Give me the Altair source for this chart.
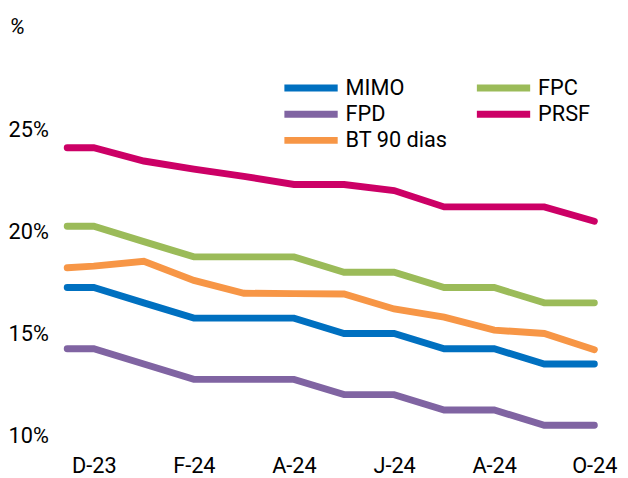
import altair as alt
import pandas as pd

# x positions: month index (0 = Dec-23 ... 10 = Oct-24); first point is a lead-in before Dec-23
x_idx = [-0.53, 0, 1, 2, 3, 4, 5, 6, 7, 8, 9, 10]
mimo = [17.25, 17.25, 16.5, 15.75, 15.75, 15.75, 15.0, 15.0, 14.25, 14.25, 13.5, 13.5]
fpc = [20.25, 20.25, 19.5, 18.75, 18.75, 18.75, 18.0, 18.0, 17.25, 17.25, 16.5, 16.5]
fpd = [14.25, 14.25, 13.5, 12.75, 12.75, 12.75, 12.0, 12.0, 11.25, 11.25, 10.5, 10.5]
prsf = [24.1, 24.1, 23.45, 23.05, 22.7, 22.3, 22.3, 22.0, 21.2, 21.2, 21.2, 20.5]
bt90 = [18.22, 18.3, 18.54, 17.6, 16.97, 16.95, 16.93, 16.2, 15.8, 15.16, 15.0, 14.2]

series_names = ["MIMO", "FPC", "FPD", "PRSF", "BT 90 dias"]
series_colors = ["#0070C0", "#9BBB59", "#8064A2", "#CC0066", "#F79646"]

x_tick_values = [0, 2, 4, 6, 8, 10]
x_tick_labels = ["D-23", "F-24", "A-24", "J-24", "A-24", "O-24"]
y_tick_values = [10, 15, 20, 25]

rows = []
for name, vals in zip(series_names, [mimo, fpc, fpd, prsf, bt90]):
    for xi, v in zip(x_idx, vals):
        rows.append({"x": xi, "value": v, "serie": name})
df = pd.DataFrame(rows)

FONT = "Roboto"
FS = 22

label_array = "[" + ",".join("'" + s + "'" for s in x_tick_labels) + "]"

chart = (
    alt.Chart(df)
    .mark_line(strokeWidth=7, strokeCap="round", strokeJoin="miter")
    .encode(
        x=alt.X(
            "x:Q",
            scale=alt.Scale(domain=[-0.53, 10], nice=False, zero=False),
            axis=alt.Axis(
                values=x_tick_values,
                labelExpr=label_array + "[round(datum.value/2)]",
                title=None,
                domain=False,
                ticks=False,
                grid=False,
                labelFlush=False,
                labelPadding=21,
                labelFont=FONT,
                labelFontSize=FS,
                labelColor="#000000",
            ),
        ),
        y=alt.Y(
            "value:Q",
            scale=alt.Scale(domain=[10, 30], nice=False, zero=False),
            axis=alt.Axis(
                values=y_tick_values,
                labelExpr="datum.value + '%'",
                title="%",
                titleAngle=0,
                titleX=-59,
                titleY=-1,
                titleAlign="left",
                titleBaseline="middle",
                titleFont=FONT,
                titleFontSize=FS,
                titleFontStyle="italic",
                titleFontWeight="normal",
                titleColor="#000000",
                domain=False,
                ticks=False,
                grid=False,
                labelAlign="left",
                labelBaseline="middle",
                labelPadding=60,
                labelFont=FONT,
                labelFontSize=FS,
                labelColor="#000000",
            ),
        ),
        color=alt.Color(
            "serie:N",
            scale=alt.Scale(domain=series_names, range=series_colors),
            sort=series_names,
            legend=alt.Legend(
                title=None,
                orient="none",
                direction="horizontal",
                legendX=216.5,
                legendY=49.5,
                columns=2,
                symbolType="stroke",
                symbolSize=2916,
                symbolStrokeWidth=7,
                clipHeight=24,
                rowPadding=2.5,
                columnPadding=26,
                labelOffset=4.5,
                labelFont=FONT,
                labelFontSize=FS,
                labelColor="#000000",
                padding=0,
            ),
        ),
    )
    .properties(
        width=534,
        height=413.5,
        padding={"left": 60, "top": 16.5, "right": 26, "bottom": 40},
        autosize=alt.AutoSizeParams(type="none"),
    )
    .configure_view(strokeWidth=0)
)

chart.save("out.html", embed_options={"renderer": "svg", "actions": False})
